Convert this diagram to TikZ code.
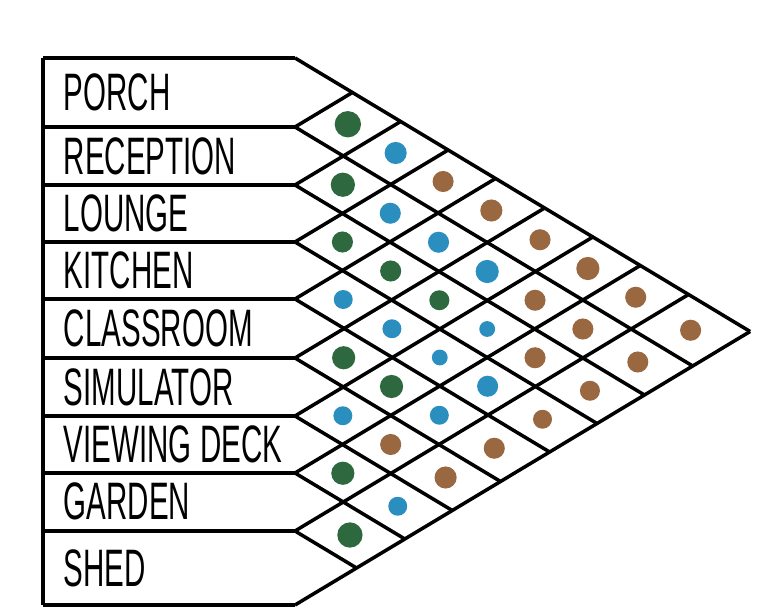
\documentclass[tikz,border=0pt]{standalone}
\usepackage{fontspec}
\setmainfont{Liberation Sans}
\usetikzlibrary{math}
\definecolor{dotgreen}{RGB}{46,104,62}
\definecolor{dotblue}{RGB}{42,142,190}
\definecolor{dotbrown}{RGB}{154,104,64}

\begin{document}
\begin{tikzpicture}[x=0.02cm, y=-0.02cm, line width=2pt, line join=round,
  room/.style={anchor=west, xscale=0.56, inner sep=0pt, font=\fontsize{30}{30}\selectfont}]
\tikzmath{
\xb=295; \ytop=58; \ybot=605; \k=0.832;
}
\useasboundingbox (0,0) rectangle (760,614);

% row boundaries
\foreach \i/\y in {0/58,1/127,2/185,3/242,4/299,5/358,6/416,7/473,8/531,9/605}{
  \coordinate (l\i) at (43,\y);
  \coordinate (b\i) at (\xb,\y);
  \draw (l\i) -- (b\i);
}
\draw (l0) -- (l9);

% grid
\foreach \i/\y in {0/58,1/127,2/185,3/242,4/299,5/358,6/416,7/473,8/531}
  \draw (b\i) -- ++({\k*(\ybot-\y)},{(\ybot-\y)/2});
\foreach \i/\y in {1/127,2/185,3/242,4/299,5/358,6/416,7/473,8/531,9/605}
  \draw (b\i) -- ++({\k*(\y-\ytop)},{-(\y-\ytop)/2});

% rooms
\foreach \i/\y/\name in {0/92/PORCH,1/156/RECEPTION,2/213/LOUNGE,3/270/KITCHEN,
  4/328/CLASSROOM,5/387/SIMULATOR,6/444/VIEWING DECK,7/501/GARDEN,8/568/SHED}
  \node[room] (r\i) at (63,\y) {\name};

% dots
\def\mids{{92.5,156,213.5,270.5,328.5,387,444.5,502,568}}
\foreach \a/\b/\c/\r in {
  0/1/dotgreen/12.5, 1/2/dotgreen/11.5, 2/3/dotgreen/10, 3/4/dotblue/9,
  4/5/dotgreen/11, 5/6/dotblue/9, 6/7/dotgreen/11, 7/8/dotgreen/12,
  0/2/dotblue/10.5, 1/3/dotblue/10, 2/4/dotgreen/10, 3/5/dotblue/9,
  4/6/dotgreen/11, 5/7/dotbrown/10, 6/8/dotblue/9,
  0/3/dotbrown/10, 1/4/dotblue/10, 2/5/dotgreen/9.5, 3/6/dotblue/7.5,
  4/7/dotblue/9, 5/8/dotbrown/10.5,
  0/4/dotbrown/10.5, 1/5/dotblue/11, 2/6/dotblue/7.5, 3/7/dotblue/10,
  4/8/dotbrown/10,
  0/5/dotbrown/10, 1/6/dotbrown/10, 2/7/dotbrown/10, 3/8/dotbrown/9,
  0/6/dotbrown/11, 1/7/dotbrown/10, 2/8/dotbrown/9.5,
  0/7/dotbrown/10, 1/8/dotbrown/10,
  0/8/dotbrown/10}{
  \pgfmathsetmacro\ma{\mids[\a]}
  \pgfmathsetmacro\mb{\mids[\b]}
  \fill[\c] ({\xb+\k*(\mb-\ma)},{(\ma+\mb)/2}) circle[radius={\r*0.6pt}];
}
\end{tikzpicture}
\end{document}
